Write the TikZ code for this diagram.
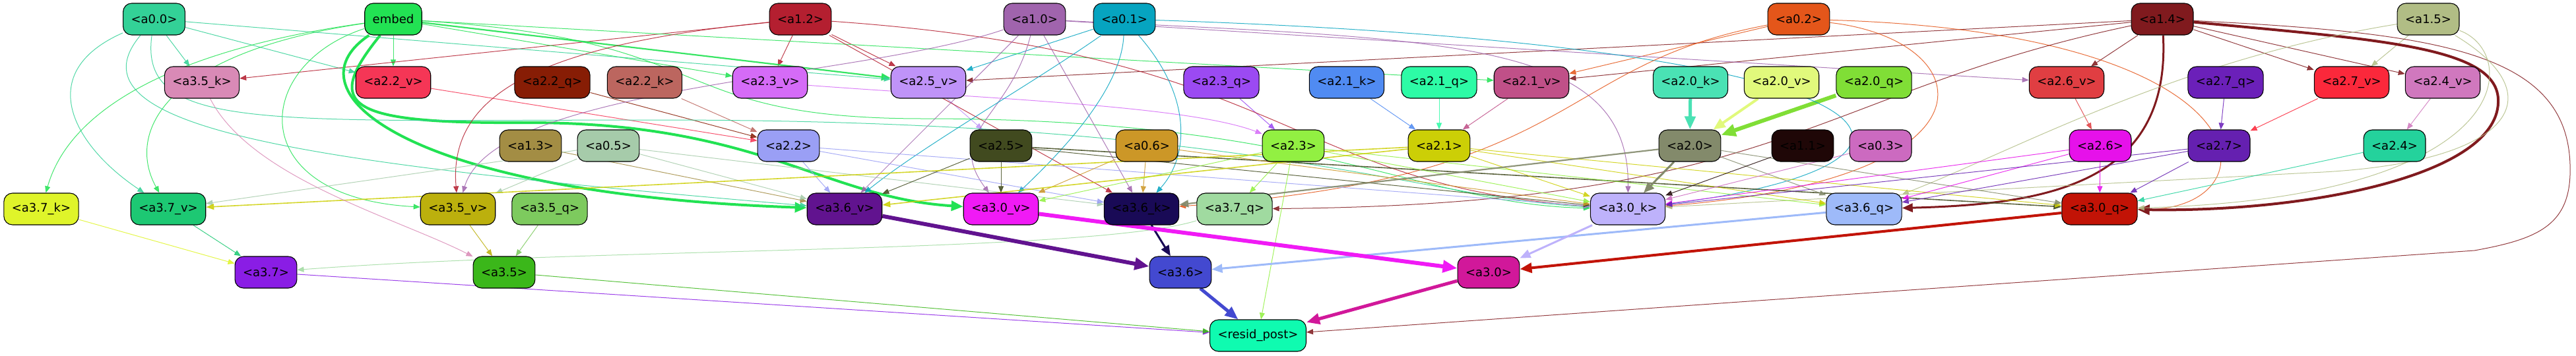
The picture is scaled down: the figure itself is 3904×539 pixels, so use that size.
\documentclass[tikz,border=0pt]{standalone}
\usepackage{fontspec}
\setmainfont{DejaVu Sans}
\usetikzlibrary{arrows.meta,backgrounds}
\definecolor{c00}{HTML}{33D197}
\definecolor{cemb}{HTML}{22E253}
\definecolor{c12}{HTML}{B41F30}
\definecolor{c10}{HTML}{A064AD}
\definecolor{c01}{HTML}{06A4C0}
\definecolor{c02}{HTML}{E4561A}
\definecolor{c14}{HTML}{801A1E}
\definecolor{c15}{HTML}{B1BD85}
\definecolor{c35k}{HTML}{D98AB6}
\definecolor{c22v}{HTML}{F53656}
\definecolor{c22q}{HTML}{871D05}
\definecolor{c22k}{HTML}{BC665F}
\definecolor{c23v}{HTML}{D56BF7}
\definecolor{c25v}{HTML}{BF93F8}
\definecolor{c23q}{HTML}{9B4AF2}
\definecolor{c21k}{HTML}{508BF2}
\definecolor{c21q}{HTML}{2DFBA6}
\definecolor{c21v}{HTML}{C05088}
\definecolor{c20k}{HTML}{4AE2B4}
\definecolor{c20v}{HTML}{E1F97C}
\definecolor{c20q}{HTML}{80DE36}
\definecolor{c26v}{HTML}{E03E42}
\definecolor{c27q}{HTML}{6B20B9}
\definecolor{c27v}{HTML}{FB283B}
\definecolor{c24v}{HTML}{D078BE}
\definecolor{c13}{HTML}{A38D44}
\definecolor{c05}{HTML}{A6CBAA}
\definecolor{c22}{HTML}{9A9FF5}
\definecolor{c25}{HTML}{414A1F}
\definecolor{c06}{HTML}{CC9727}
\definecolor{c23}{HTML}{92F042}
\definecolor{c21}{HTML}{CCCF06}
\definecolor{c20}{HTML}{838A6B}
\definecolor{c11}{HTML}{1F0707}
\definecolor{c03}{HTML}{CC6AC0}
\definecolor{c26}{HTML}{E611EA}
\definecolor{c27}{HTML}{6520B0}
\definecolor{c24}{HTML}{24D29C}
\definecolor{c37k}{HTML}{DFF42A}
\definecolor{c37v}{HTML}{1DC873}
\definecolor{c35v}{HTML}{BCB00D}
\definecolor{c35q}{HTML}{7DCA5E}
\definecolor{c36v}{HTML}{61138F}
\definecolor{c30v}{HTML}{F01AF5}
\definecolor{c36k}{HTML}{190A56}
\definecolor{c37q}{HTML}{A0DAA0}
\definecolor{c30k}{HTML}{BEB2FB}
\definecolor{c36q}{HTML}{9EBAF9}
\definecolor{c30q}{HTML}{C21306}
\definecolor{c37}{HTML}{8A1DE5}
\definecolor{c35}{HTML}{3BB71A}
\definecolor{c36}{HTML}{4349D0}
\definecolor{c30}{HTML}{D1189A}
\definecolor{crp}{HTML}{0FFBB0}
\tikzset{
  gnode/.style={draw=black, line width=1.1pt, rounded corners=13pt, minimum height=48pt,
    inner xsep=12pt, inner ysep=0pt, fill=#1, font=\fontsize{18}{20}\selectfont},
  w1/.style={line width=1pt, opacity=0.85, -{Triangle[length=10pt,width=8pt]}},
  w15/.style={line width=1.6pt, opacity=0.85, -{Triangle[length=12pt,width=9pt]}},
  w2/.style={line width=2.2pt, opacity=0.9, -{Triangle[length=14pt,width=11pt]}},
  w3/.style={line width=3pt, -{Triangle[length=16pt,width=13pt]}},
  w4/.style={line width=4pt, -{Triangle[length=18pt,width=15pt]}},
  w5/.style={line width=5pt, -{Triangle[length=20pt,width=16pt]}},
  w6/.style={line width=6pt, -{Triangle[length=22pt,width=18pt]}},
}
\newcommand\gnd[5]{\node[gnode=#5] (#1) at (#3,-#4) {#2};}
\newcommand\cnx[4][w1]{\draw[#1,draw=#2] (#3) -- (#4);}
\begin{document}
\begin{tikzpicture}[x=1pt,y=1pt]
\useasboundingbox (0,0) rectangle (3904,-539);
% row 1
\gnd{a00}{<a0.0>}{233.5}{29}{c00}
\gnd{emb}{embed}{596}{29}{cemb}
\gnd{a12}{<a1.2>}{1213}{29}{c12}
\gnd{a10}{<a1.0>}{1568}{29}{c10}
\gnd{a01}{<a0.1>}{1704}{29}{c01}
\gnd{a02}{<a0.2>}{2726}{29}{c02}
\gnd{a14}{<a1.4>}{3277}{29}{c14}
\gnd{a15}{<a1.5>}{3680}{29}{c15}
% row 2
\gnd{a35k}{<a3.5\_k>}{306}{125}{c35k}
\gnd{a22v}{<a2.2\_v>}{596}{125}{c22v}
\gnd{a22q}{<a2.2\_q>}{837}{125}{c22q}
\gnd{a22k}{<a2.2\_k>}{977}{125}{c22k}
\gnd{a23v}{<a2.3\_v>}{1167}{125}{c23v}
\gnd{a25v}{<a2.5\_v>}{1407}{125}{c25v}
\gnd{a23q}{<a2.3\_q>}{1851}{125}{c23q}
\gnd{a21k}{<a2.1\_k>}{2041}{125}{c21k}
\gnd{a21q}{<a2.1\_q>}{2181}{125}{c21q}
\gnd{a21v}{<a2.1\_v>}{2321}{125}{c21v}
\gnd{a20k}{<a2.0\_k>}{2562}{125}{c20k}
\gnd{a20v}{<a2.0\_v>}{2700}{125}{c20v}
\gnd{a20q}{<a2.0\_q>}{2840}{125}{c20q}
\gnd{a26v}{<a2.6\_v>}{3132}{125}{c26v}
\gnd{a27q}{<a2.7\_q>}{3373}{125}{c27q}
\gnd{a27v}{<a2.7\_v>}{3564}{125}{c27v}
\gnd{a24v}{<a2.4\_v>}{3702}{125}{c24v}
% row 3
\gnd{a13}{<a1.3>}{804}{221}{c13}
\gnd{a05}{<a0.5>}{922}{221}{c05}
\gnd{a22}{<a2.2>}{1195}{221}{c22}
\gnd{a25}{<a2.5>}{1517}{221}{c25}
\gnd{a06}{<a0.6>}{1738}{221}{c06}
\gnd{a23}{<a2.3>}{1960}{221}{c23}
\gnd{a21}{<a2.1>}{2181}{221}{c21}
\gnd{a20}{<a2.0>}{2561}{221}{c20}
\gnd{a11}{<a1.1>}{2732}{221}{c11}
\gnd{a03}{<a0.3>}{2850}{221}{c03}
\gnd{a26}{<a2.6>}{3183}{221}{c26}
\gnd{a27}{<a2.7>}{3363}{221}{c27}
\gnd{a24}{<a2.4>}{3629}{221}{c24}
% row 4
\gnd{a37k}{<a3.7\_k>}{62.5}{317}{c37k}
\gnd{a37v}{<a3.7\_v>}{255}{317}{c37v}
\gnd{a35v}{<a3.5\_v>}{694}{317}{c35v}
\gnd{a35q}{<a3.5\_q>}{833}{317}{c35q}
\gnd{a36v}{<a3.6\_v>}{1280}{317}{c36v}
\gnd{a30v}{<a3.0\_v>}{1517}{317}{c30v}
\gnd{a36k}{<a3.6\_k>}{1730}{317}{c36k}
\gnd{a37q}{<a3.7\_q>}{1871}{317}{c37q}
\gnd{a30k}{<a3.0\_k>}{2467}{317}{c30k}
\gnd{a36q}{<a3.6\_q>}{2825}{317}{c36q}
\gnd{a30q}{<a3.0\_q>}{3182}{317}{c30q}
% row 5
\gnd{a37}{<a3.7>}{403}{413}{c37}
\gnd{a35}{<a3.5>}{764}{413}{c35}
\gnd{a36}{<a3.6>}{1789}{413}{c36}
\gnd{a30}{<a3.0>}{2256}{413}{c30}
% row 6
\gnd{rp}{<resid\_post>}{1906.5}{509}{crp}

\begin{pgfonlayer}{background}
% row1 -> row2
\cnx{c00}{a00}{a35k}
\cnx{c00}{a00}{a22v}
\cnx{cemb}{emb}{a22v}
\cnx{c12}{a12}{a35k}
\cnx{c12}{a12}{a23v}
\cnx{c12}{a12}{a25v}
\cnx{cemb}{emb}{a23v}
\cnx[w2]{cemb}{emb}{a25v}
\cnx{c00}{a00}{a25v}
\cnx{c01}{a01}{a25v}
\cnx{c14}{a14}{a25v}
\cnx{cemb}{emb}{a21v}
\cnx{c02}{a02}{a21v}
\cnx{c14}{a14}{a21v}
\cnx{c14}{a14}{a26v}
\cnx{c10}{a10}{a26v}
\cnx{c14}{a14}{a27v}
\cnx{c15}{a15}{a27v}
\cnx{c14}{a14}{a24v}
% row2 -> row3
\cnx{c22v}{a22v}{a22}
\cnx{c22q}{a22q}{a22}
\cnx{c22k}{a22k}{a22}
\cnx{c25v}{a25v}{a25}
\draw[w1,draw=c23v] (a23v) .. controls (1500,-150) and (1800,-160) .. (a23);
\cnx{c23q}{a23q}{a23}
\cnx{c21k}{a21k}{a21}
\cnx{c21q}{a21q}{a21}
\cnx{c21v}{a21v}{a21}
\cnx[w5]{c20k}{a20k}{a20}
\cnx[w4]{c20v}{a20v}{a20}
\cnx[w6]{c20q}{a20q}{a20}
\cnx{c26v}{a26v}{a26}
\cnx{c27q}{a27q}{a27}
\cnx{c27v}{a27v}{a27}
\cnx{c24v}{a24v}{a24}
% row1 -> row4 (curves)
\draw[w4,draw=cemb] (emb) .. controls (430,-140) and (620,-295) .. (a36v);
\draw[w4,draw=cemb] (emb) .. controls (490,-160) and (520,-188) .. (800,-186) .. controls (1150,-186) and (1250,-300) .. (a30v);
\draw[w1,draw=cemb] (emb) .. controls (300,-70) and (110,-150) .. (a37k);
\draw[w1,draw=cemb] (emb) .. controls (250,-80) and (190,-200) .. (a37v);
\draw[w1,draw=cemb] (emb) .. controls (380,-100) and (370,-300) .. (a35v);
\draw[w1,draw=cemb] (emb) .. controls (1100,-60) and (1000,-180) .. (1400,-180) .. controls (2000,-180) and (2150,-310) .. (a30k);
\draw[w1,draw=c00] (a00) .. controls (50,-110) and (110,-220) .. (a37v);
\draw[w1,draw=c00] (a00) .. controls (90,-200) and (500,-250) .. (a36v);
\draw[w1,draw=c00] (a00) .. controls (210,-200) and (400,-182) .. (1000,-182) .. controls (1900,-182) and (2150,-300) .. (a30k);
\draw[w1,draw=c12] (a12) .. controls (800,-70) and (680,-150) .. (a35v);
\cnx{c12}{a12}{a36k}
\draw[w1,draw=c12] (a12) .. controls (1950,-80) and (1950,-280) .. (a30k);
\draw[w1,draw=c10] (a10) .. controls (1300,-120) and (750,-130) .. (a35v);
\cnx{c10}{a10}{a36v}
\draw[w1,draw=c10] (a10) .. controls (1530,-180) and (1430,-200) .. (a30v);
\cnx{c10}{a10}{a36k}
\draw[w1,draw=c10] (a10) .. controls (2200,-60) and (2470,-60) .. (a30k);
\draw[w1,draw=c01] (a01) .. controls (1560,-130) and (1400,-220) .. (a36v);
\draw[w1,draw=c01] (a01) .. controls (1700,-130) and (1620,-220) .. (a30v);
\draw[w1,draw=c01] (a01) .. controls (1810,-150) and (1800,-240) .. (a36k);
\draw[w1,draw=c01] (a01) .. controls (2950,-70) and (3000,-250) .. (a30k);
\draw[w1,draw=c02] (a02) .. controls (2350,-100) and (2400,-270) .. (a36k);
\draw[w1,draw=c02] (a02) .. controls (3000,-60) and (3050,-270) .. (a30k);
\draw[w1,draw=c02] (a02) .. controls (3450,-50) and (3450,-320) .. (a30q);
\draw[w1,draw=c14] (a14) .. controls (2750,-140) and (2700,-310) .. (a37q);
\draw[w3,draw=c14] (a14) .. controls (3290,-280) and (3100,-310) .. (a36q);
\draw[w4,draw=c14] (a14) .. controls (3600,-60) and (3782,-70) .. (3786,-150) .. controls (3792,-265) and (3500,-322) .. (a30q);
\draw[w1,draw=c14] (a14) .. controls (3700,-50) and (3890,-80) .. (3895,-250) .. controls (3898,-340) and (3850,-362) .. (3750,-380) -- (rp);
\draw[w1,draw=c15] (a15) .. controls (3300,-90) and (3050,-230) .. (a36q);
\draw[w1,draw=c15] (a15) .. controls (3820,-80) and (3820,-300) .. (a30q);
\draw[w1,draw=c15] (a15) .. controls (3880,-150) and (3800,-250) .. (3500,-262) -- (a30k);
% row3 -> row4
\cnx{c13}{a13}{a36v}
\cnx{c05}{a05}{a37v}
\cnx{c05}{a05}{a35v}
\cnx{c05}{a05}{a36v}
\cnx{c05}{a05}{a36k}
\cnx{c22}{a22}{a36v}
\cnx{c22}{a22}{a36k}
\cnx{c22}{a22}{a30k}
\cnx{c25}{a25}{a36v}
\cnx{c25}{a25}{a30v}
\cnx{c25}{a25}{a30k}
\cnx[w15]{c25}{a25}{a30q}
\cnx{c06}{a06}{a30v}
\cnx{c06}{a06}{a36k}
\cnx{c06}{a06}{a30k}
\cnx{c23}{a23}{a30v}
\cnx{c23}{a23}{a37q}
\cnx{c23}{a23}{a30k}
\cnx{c23}{a23}{a36q}
\cnx{c23}{a23}{rp}
\cnx[w15]{c21}{a21}{a36v}
\cnx[w15]{c21}{a21}{a37v}
\cnx{c21}{a21}{a30k}
\cnx{c21}{a21}{a36q}
\cnx{c21}{a21}{a30q}
\cnx[w3]{c20}{a20}{a30k}
\cnx[w2]{c20}{a20}{a36k}
\cnx{c20}{a20}{a36q}
\cnx{c20}{a20}{a30q}
\cnx{c11}{a11}{a30k}
\cnx{c03}{a03}{a30k}
\cnx{c26}{a26}{a30q}
\cnx{c26}{a26}{a36q}
\cnx{c26}{a26}{a30k}
\cnx{c27}{a27}{a30q}
\cnx{c27}{a27}{a36q}
\cnx{c27}{a27}{a30k}
\cnx{c24}{a24}{a30q}
% row4 -> row5
\cnx{c37k}{a37k}{a37}
\cnx{c37v}{a37v}{a37}
\draw[w1,draw=c37q] (a37q) .. controls (1650,-385) and (900,-375) .. (a37);
\draw[w1,draw=c35k] (a35k) .. controls (380,-270) and (600,-330) .. (a35);
\cnx{c35v}{a35v}{a35}
\cnx{c35q}{a35q}{a35}
\cnx[w6]{c36v}{a36v}{a36}
\cnx[w3]{c36k}{a36k}{a36}
\cnx[w3]{c36q}{a36q}{a36}
\cnx[w6]{c30v}{a30v}{a30}
\cnx[w3]{c30k}{a30k}{a30}
\cnx[w4]{c30q}{a30q}{a30}
% row5 -> resid_post
\cnx{c37}{a37}{rp}
\cnx{c35}{a35}{rp}
\cnx[w5]{c36}{a36}{rp}
\cnx[w5]{c30}{a30}{rp}
\end{pgfonlayer}
\end{tikzpicture}
\end{document}
